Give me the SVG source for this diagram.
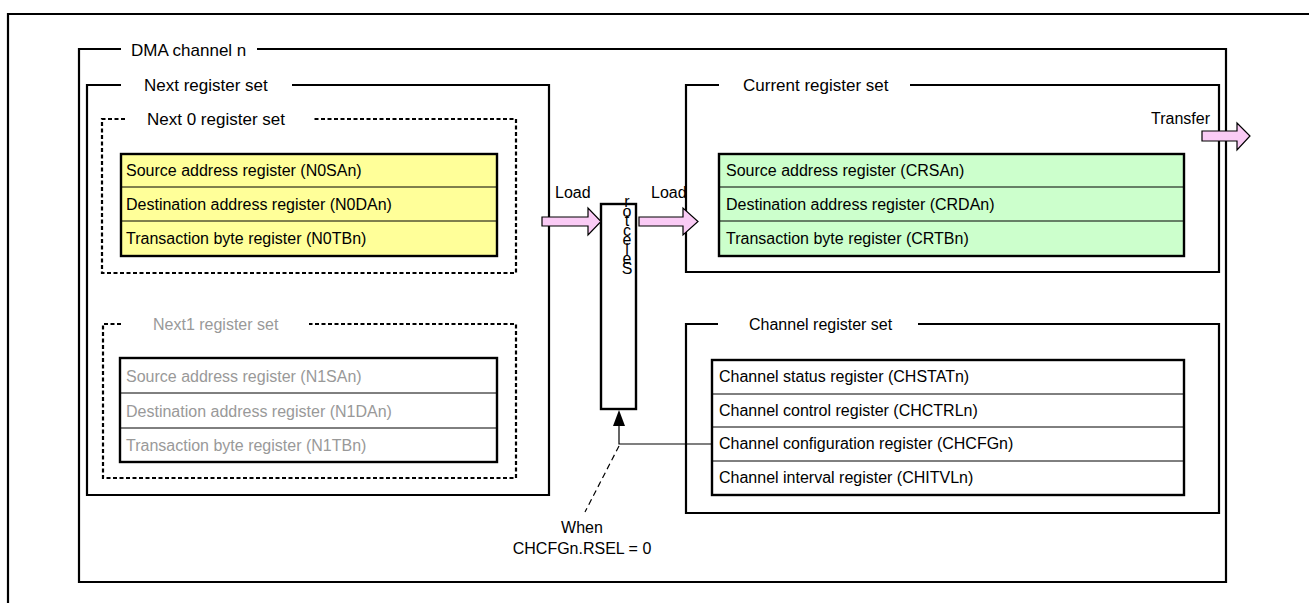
<svg xmlns="http://www.w3.org/2000/svg" width="1309" height="603" viewBox="0 0 1309 603">
<style>
text{font-family:"Liberation Sans",Arial,sans-serif;fill:#000}
.t17{font-size:17px}
.t16{font-size:16px}
.gray{fill:#999}
.frame{fill:none;stroke:#000;stroke-width:2.2}
.dash{fill:none;stroke:#000;stroke-width:2.2;stroke-dasharray:4 2.5}
.tbl{stroke:#000;stroke-width:2.4}
.row{stroke:#000;stroke-width:1}
.arrow{fill:#FACBF5;stroke:#000;stroke-width:1.2}
.vert{writing-mode:vertical-rl;text-orientation:upright;letter-spacing:-7.5px}
</style>
<rect width="1309" height="603" fill="#fff"/>
<g id="page-frame">
<path d="M8,603 V14 H1309" class="frame"/>
</g>
<g id="dma-channel">
<path d="M121,49 H79 V582 H1226 V49 H257" class="frame"/>
<text x="131" y="56" class="t17">DMA channel n</text>
</g>
<g id="next-register-set">
<path d="M121,85 H87 V495 H549 V85 H292" class="frame"/>
<text x="144" y="91" class="t17">Next register set</text>
</g>
<g id="next0-register-set">
<path d="M125,119 H102 V273 H516 V119 H313" class="dash"/>
<text x="147" y="125" class="t17">Next 0 register set</text>
<rect x="121" y="154" width="376" height="102" fill="#FFFF99" class="tbl"/>
<line x1="121" y1="187" x2="497" y2="187" class="row"/>
<line x1="121" y1="221" x2="497" y2="221" class="row"/>
<text x="126" y="176" class="t16">Source address register (N0SAn)</text>
<text x="126" y="210" class="t16">Destination address register (N0DAn)</text>
<text x="126" y="244" class="t16">Transaction byte register (N0TBn)</text>
</g>
<g id="next1-register-set">
<path d="M121,324 H103 V478 H516 V324 H309" class="dash"/>
<text x="153" y="330" class="t16 gray">Next1 register set</text>
<rect x="120" y="358" width="377" height="104" fill="#fff" class="tbl"/>
<line x1="120" y1="393" x2="497" y2="393" class="row"/>
<line x1="120" y1="428" x2="497" y2="428" class="row"/>
<text x="126" y="382" class="t16 gray">Source address register (N1SAn)</text>
<text x="126" y="417" class="t16 gray">Destination address register (N1DAn)</text>
<text x="126" y="451" class="t16 gray">Transaction byte register (N1TBn)</text>
</g>
<g id="selector">
<rect x="601" y="204" width="35" height="205" fill="#fff" class="tbl"/>
<text x="627" y="193" class="t16 vert">rotceleS</text>
</g>
<g id="current-register-set">
<path d="M719,85 H686 V272 H1219 V85 H910" class="frame"/>
<text x="743" y="91" class="t17">Current register set</text>
<rect x="719" y="154" width="465" height="102" fill="#CCFFCC" class="tbl"/>
<line x1="719" y1="187" x2="1184" y2="187" class="row"/>
<line x1="719" y1="221" x2="1184" y2="221" class="row"/>
<text x="726" y="176" class="t16">Source address register (CRSAn)</text>
<text x="726" y="210" class="t16">Destination address register (CRDAn)</text>
<text x="726" y="244" class="t16">Transaction byte register (CRTBn)</text>
</g>
<g id="channel-register-set">
<path d="M718,324 H686 V513 H1219 V324 H918" class="frame"/>
<text x="749" y="330" class="t16">Channel register set</text>
<rect x="712" y="360" width="472" height="135" fill="#fff" class="tbl"/>
<line x1="712" y1="394" x2="1184" y2="394" class="row"/>
<line x1="712" y1="427" x2="1184" y2="427" class="row"/>
<line x1="712" y1="461" x2="1184" y2="461" class="row"/>
<text x="719" y="382" class="t16">Channel status register (CHSTATn)</text>
<text x="719" y="416" class="t16">Channel control register (CHCTRLn)</text>
<text x="719" y="449" class="t16">Channel configuration register (CHCFGn)</text>
<text x="719" y="483" class="t16">Channel interval register (CHITVLn)</text>
</g>
<g id="connectors">
<polygon points="542,217 588,217 588,208 601,221.5 588,235 588,226 542,226" class="arrow"/>
<text x="555" y="198" class="t16">Load</text>
<polygon points="639,217 683,217 683,208 698,221.5 683,235 683,226 639,226" class="arrow"/>
<text x="651" y="198" class="t16">Load</text>
<polygon points="1202,131 1237,131 1237,123 1250,136 1237,150 1237,141 1202,141" class="arrow"/>
<text x="1151" y="124" class="t16">Transfer</text>
<polyline points="712,444 619,444 619,424" fill="none" stroke="#000" stroke-width="1.2"/>
<polygon points="619,410 613,426 625,426" fill="#000"/>
<line x1="619" y1="446" x2="585" y2="512" stroke="#000" stroke-width="1.2" stroke-dasharray="6 4"/>
<text x="582" y="533" class="t16" text-anchor="middle">When</text>
<text x="582" y="554" class="t16" text-anchor="middle">CHCFGn.RSEL = 0</text>
</g>
</svg>
